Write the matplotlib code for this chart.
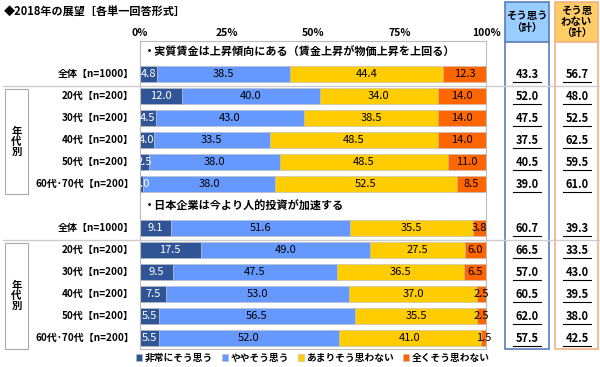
import numpy as np
import matplotlib.pyplot as plt
import matplotlib.transforms as mtransforms
from matplotlib.patches import Rectangle

plt.rcParams['font.family'] = ['Noto Sans CJK JP', 'DejaVu Sans']

# data
title = '◆2018年の展望［各単一回答形式］'
q1 = '・実質賃金は上昇傾向にある（賃金上昇が物価上昇を上回る）'
q2 = '・日本企業は今より人的投資が加速する'
groups = ['全体【n=1000】', '20代【n=200】', '30代【n=200】', '40代【n=200】',
          '50代【n=200】', '60代･70代【n=200】']
series_names = ['非常にそう思う', 'ややそう思う', 'あまりそう思わない', '全くそう思わない']

q1_very = [4.8, 12.0, 4.5, 4.0, 2.5, 1.0]
q1_some = [38.5, 40.0, 43.0, 33.5, 38.0, 38.0]
q1_not_much = [44.4, 34.0, 38.5, 48.5, 48.5, 52.5]
q1_not_at_all = [12.3, 14.0, 14.0, 14.0, 11.0, 8.5]
q1_agree = [43.3, 52.0, 47.5, 37.5, 40.5, 39.0]
q1_disagree = [56.7, 48.0, 52.5, 62.5, 59.5, 61.0]

q2_very = [9.1, 17.5, 9.5, 7.5, 5.5, 5.5]
q2_some = [51.6, 49.0, 47.5, 53.0, 56.5, 52.0]
q2_not_much = [35.5, 27.5, 36.5, 37.0, 35.5, 41.0]
q2_not_at_all = [3.8, 6.0, 6.5, 2.5, 2.5, 1.5]
q2_agree = [60.7, 66.5, 57.0, 60.5, 62.0, 57.5]
q2_disagree = [39.3, 33.5, 43.0, 39.5, 38.0, 42.5]

colors = ['#2F5597', '#6699FF', '#FFCC00', '#FF6600']
txt_colors = ['white', 'black', 'black', 'black']

W, H = 600, 367
fig = plt.figure(figsize=(6, 3.67), dpi=100)

# bar axes: rows -0.5..13.5 -> pixel y 41..349, x 140..486
ax = fig.add_axes([140 / W, 1 - 349 / H, 346 / W, 308 / H])
ax.set_xlim(0, 100)
ax.set_ylim(13.5, -0.5)

rows1 = np.arange(1, 7)
rows2 = np.arange(8, 14)
block1 = [q1_very, q1_some, q1_not_much, q1_not_at_all]
block2 = [q2_very, q2_some, q2_not_much, q2_not_at_all]

for rows, block in [(rows1, block1), (rows2, block2)]:
    left = np.zeros(len(rows))
    for k, vals in enumerate(block):
        vals = np.array(vals)
        ax.barh(rows, vals, left=left, height=0.76, color=colors[k],
                edgecolor='#BBBBBB', linewidth=0.4,
                label=series_names[k] if rows[0] == 1 else None)
        for r, l, v in zip(rows, left, vals):
            ax.text(l + v / 2, r, f'{v:.1f}', ha='center', va='center',
                    fontsize=8, color=txt_colors[k])
        left += vals

ax.text(1, 0, q1, ha='left', va='center', fontsize=8, fontweight='bold')
ax.text(1, 7, q2, ha='left', va='center', fontsize=8, fontweight='bold')

ax.set_yticks([])
ax.xaxis.tick_top()
ax.set_xticks([0, 25, 50, 75, 100])
ax.set_xticklabels(['0%', '25%', '50%', '75%', '100%'], fontsize=7.5,
                   fontweight='bold')
ax.tick_params(axis='x', length=0, pad=2)
for s in ax.spines.values():
    s.set_color('#BBBBBB')
    s.set_linewidth(0.8)

# row labels and right columns
tr = mtransforms.blended_transform_factory(fig.transFigure, ax.transData)
for rows, agree, disagree in [(rows1, q1_agree, q1_disagree),
                              (rows2, q2_agree, q2_disagree)]:
    for r, g, a, d in zip(rows, groups, agree, disagree):
        ax.text(134 / W, r, g, transform=tr, ha='right', va='center',
                fontsize=7.2, fontweight='bold')
        for xp, v in [(527 / W, a), (577 / W, d)]:
            ax.text(xp, r, f'{v:.1f}', transform=tr, ha='center',
                    va='center', fontsize=8, fontweight='bold')
            ax.plot([xp - 14 / W, xp + 14 / W], [r + 0.35, r + 0.35],
                    transform=tr, color='black', lw=0.8, clip_on=False)

# separators
for yp in [86, 240]:
    fig.add_artist(plt.Line2D([3 / W, 1], [1 - yp / H, 1 - yp / H],
                              color='#CCCCCC', lw=1))

# 年代別 boxes
for y0, y1 in [(89, 194), (243, 349)]:
    fig.add_artist(Rectangle((5 / W, 1 - y1 / H), 23 / W, (y1 - y0) / H,
                             transform=fig.transFigure, fill=False,
                             edgecolor='#AAAAAA', lw=0.8))
    fig.text(16.5 / W, 1 - ((y0 + y1) / 2) / H, '年\n代\n別', ha='center',
             va='center', fontsize=7.5, fontweight='bold', linespacing=1.0)

# right column boxes
for x0, x1, ec, fc, lab in [(505, 549, '#5B7DB8', '#99CCFF', 'そう思う\n（計）'),
                            (555, 598, '#F4B183', '#FFCC66', 'そう思\nわない\n（計）')]:
    fig.add_artist(Rectangle((x0 / W, 1 - 42 / H), (x1 - x0) / W, 40 / H,
                             transform=fig.transFigure, facecolor=fc,
                             edgecolor='none'))
    fig.add_artist(Rectangle((x0 / W, 1 - 349 / H), (x1 - x0) / W, 347 / H,
                             transform=fig.transFigure, fill=False,
                             edgecolor=ec, lw=1.2))
    fig.add_artist(plt.Line2D([x0 / W, x1 / W], [1 - 42 / H, 1 - 42 / H],
                              color=ec, lw=1.2))
    fig.text((x0 + x1) / 2 / W, 1 - 22 / H, lab, ha='center', va='center',
             fontsize=7.5, fontweight='bold', linespacing=1.15)

fig.text(4 / W, 1 - 12 / H, title, ha='left', va='center', fontsize=8,
         fontweight='bold', family=['Noto Sans CJK JP', 'DejaVu Sans'])

fig.legend(loc='center', bbox_to_anchor=(313 / W, 1 - 358 / H), ncol=4,
           frameon=False, handlelength=0.6, handleheight=0.6,
           handletextpad=0.3, columnspacing=0.9,
           prop={'weight': 'bold', 'size': 7})

fig.savefig('out.png', dpi=100)
